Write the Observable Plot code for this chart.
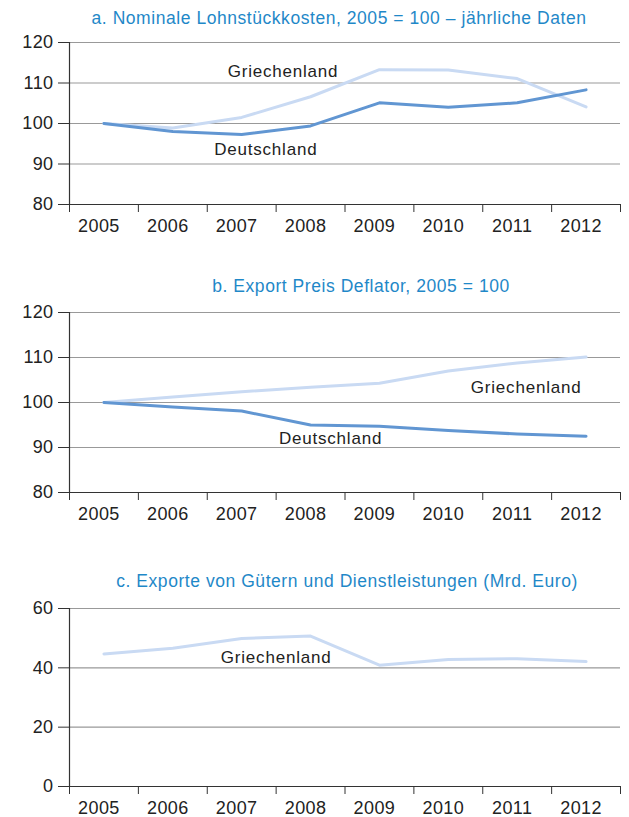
<!DOCTYPE html>
<html>
<head>
<meta charset="utf-8">
<script src="https://cdn.jsdelivr.net/npm/d3@7"></script>
<script src="https://cdn.jsdelivr.net/npm/@observablehq/plot@0.6"></script>
<style>
  html, body { margin: 0; padding: 0; background: #fff; }
  #root { position: relative; width: 629px; height: 817px; background: #fff; font-family: "Liberation Sans", Arial, sans-serif; }
  .title { position: absolute; transform: translateX(-50%); white-space: nowrap; color: #1f88c8; font-size: 17.5px; letter-spacing: 0.55px; line-height: 20px; }
  .panel { position: absolute; left: 0; }
  .panel svg text { letter-spacing: 0.4px; }
  .panel svg g.series-label text { letter-spacing: 0.8px; }
</style>
</head>
<body>
<div id="root"></div>
<script>
// ---- data ----
const years = [2005, 2006, 2007, 2008, 2009, 2010, 2011, 2012];

const titleA = "a. Nominale Lohnstückkosten, 2005 = 100 \u2013 jährliche Daten";
const titleB = "b. Export Preis Deflator, 2005 = 100";
const titleC = "c. Exporte von Gütern und Dienstleistungen (Mrd. Euro)";

const ulcGermany = [100, 98.0, 97.3, 99.4, 105.1, 104.0, 105.1, 108.3];
const ulcGreece  = [100, 98.9, 101.5, 106.6, 113.3, 113.2, 111.1, 104.1];

const defGermany = [100, 99.0, 98.1, 95.0, 94.7, 93.8, 93.0, 92.5];
const defGreece  = [100, 101.2, 102.4, 103.4, 104.3, 107.0, 108.8, 110.1];

const expGreece  = [44.7, 46.6, 49.9, 50.7, 40.9, 42.8, 43.1, 42.1];

const ticksA = [80, 90, 100, 110, 120];
const ticksB = [80, 90, 100, 110, 120];
const ticksC = [0, 20, 40, 60];

const labelsA = [{name: "Griechenland", year: 2007.6, value: 112.8}, {name: "Deutschland", year: 2007.35, value: 93.6}];
const labelsB = [{name: "Griechenland", year: 2011.13, value: 103.3}, {name: "Deutschland", year: 2008.29, value: 92.0}];
const labelsC = [{name: "Griechenland", year: 2007.5, value: 43.3}];

// ---- style ----
const colGermany = "#6196d2";
const colGreece = "#c9daf3";
const boundaries = d3.range(years.length + 1).map(i => years[0] - 0.5 + i);

const toSeries = vals => years.map((y, i) => ({year: y, value: vals[i]}));

function panel({title, titleX, titleTop, top, height, marginBottom, ticks, series, labels}) {
  const root = document.getElementById("root");
  const t = document.createElement("div");
  t.className = "title";
  t.style.left = titleX + "px";
  t.style.top = titleTop + "px";
  t.textContent = title;
  root.appendChild(t);

  const marks = [
    Plot.ruleY(ticks.slice(1), {stroke: "#999", strokeWidth: 1.1}),
    ...series.map(s => Plot.line(toSeries(s.values), {x: "year", y: "value", stroke: s.color, strokeWidth: 3})),
    Plot.ruleY([ticks[0]], {stroke: "#333", strokeWidth: 1.2}),
    Plot.ruleX([boundaries[0]], {stroke: "#333", strokeWidth: 1.2}),
    Plot.axisY(ticks, {anchor: "left", tickSize: 11, tickPadding: 5, fontSize: 18, label: null, stroke: "#333", fill: "#222"}),
    Plot.axisX(boundaries, {anchor: "bottom", tickSize: 8, tickFormat: () => "", label: null, stroke: "#333"}),
    Plot.axisX(years, {anchor: "bottom", tickSize: 0, tickPadding: 15, fontSize: 18, dx: -5, label: null, tickFormat: d => String(d), fill: "#222"}),
    Plot.text(labels, {x: "year", y: "value", text: "name", fontSize: 17, fill: "#222", className: "series-label"})
  ];

  const chart = Plot.plot({
    width: 629,
    height,
    marginLeft: 69,
    marginRight: 9,
    marginTop: 12,
    marginBottom,
    x: {type: "linear", domain: [boundaries[0], boundaries[boundaries.length - 1]], axis: null},
    y: {domain: [ticks[0], ticks[ticks.length - 1]], axis: null},
    style: {fontFamily: "'Liberation Sans', Arial, sans-serif", fontSize: "18px", background: "transparent", overflow: "visible", color: "#222"},
    marks
  });
  const wrap = document.createElement("div");
  wrap.className = "panel";
  wrap.style.top = top + "px";
  wrap.appendChild(chart);
  root.appendChild(wrap);
}

panel({title: titleA, titleX: 339, titleTop: 8, top: 30, height: 210, marginBottom: 36,
  ticks: ticksA, series: [{values: ulcGreece, color: colGreece}, {values: ulcGermany, color: colGermany}], labels: labelsA});
panel({title: titleB, titleX: 361, titleTop: 276, top: 300, height: 228, marginBottom: 36,
  ticks: ticksB, series: [{values: defGreece, color: colGreece}, {values: defGermany, color: colGermany}], labels: labelsB});
panel({title: titleC, titleX: 347, titleTop: 571, top: 596, height: 220, marginBottom: 30,
  ticks: ticksC, series: [{values: expGreece, color: colGreece}], labels: labelsC});
</script>
</body>
</html>
